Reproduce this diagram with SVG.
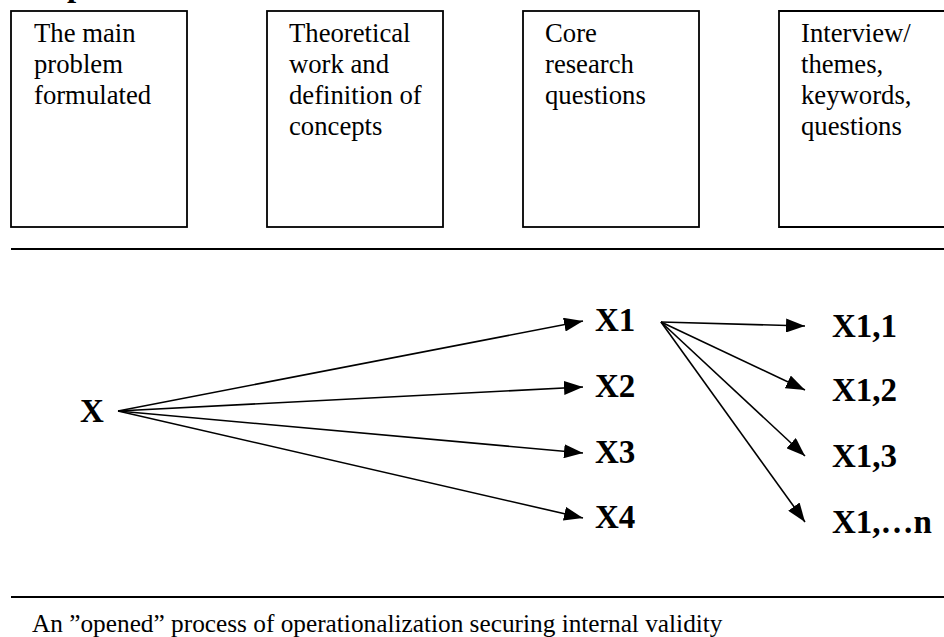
<svg xmlns="http://www.w3.org/2000/svg" width="944" height="637" viewBox="0 0 944 637">
<style>
.box{fill:none;stroke:#000;stroke-width:1.8}
.rule{stroke:#000;stroke-width:1.8}
.t{font-family:"Liberation Serif","Times New Roman",serif;font-size:26.7px;fill:#000}
.cap{font-family:"Liberation Serif","Times New Roman",serif;font-size:25.3px;fill:#000}
.b{font-family:"Liberation Serif","Times New Roman",serif;font-size:33px;font-weight:bold;fill:#000}
.c{stroke:#000;stroke-width:1.6;fill:none;marker-end:url(#ah)}
</style>
<defs>
<marker id="ah" markerUnits="userSpaceOnUse" markerWidth="20" markerHeight="14" refX="19" refY="7" orient="auto">
<path d="M0,0 L19,7 L0,14 Z" fill="#000"/>
</marker>
</defs>
<rect width="944" height="637" fill="#fff"/>
<text class="b" x="67" y="-4">p</text>
<g id="box1"><rect class="box" x="11" y="11" width="176" height="216"/>
<text class="t"><tspan x="34" y="42">The main</tspan><tspan x="34" y="73">problem</tspan><tspan x="34" y="104">formulated</tspan></text></g>
<g id="box2"><rect class="box" x="267" y="11" width="176" height="216"/>
<text class="t"><tspan x="289" y="42">Theoretical</tspan><tspan x="289" y="73">work and</tspan><tspan x="289" y="104">definition of</tspan><tspan x="289" y="135">concepts</tspan></text></g>
<g id="box3"><rect class="box" x="523" y="11" width="176" height="216"/>
<text class="t"><tspan x="545" y="42">Core</tspan><tspan x="545" y="73">research</tspan><tspan x="545" y="104">questions</tspan></text></g>
<g id="box4"><path class="box" d="M945,11 H779 V227 H945"/>
<text class="t"><tspan x="801" y="42">Interview/</tspan><tspan x="801" y="73">themes,</tspan><tspan x="801" y="104">keywords,</tspan><tspan x="801" y="135">questions</tspan></text></g>
<line class="rule" x1="11" y1="249" x2="944" y2="249"/>
<line class="rule" x1="11" y1="597" x2="944" y2="597"/>
<g id="nX"><text class="b" x="80" y="422">X</text></g>
<g id="nX1"><text class="b" x="595" y="331">X1</text></g>
<g id="nX2"><text class="b" x="595" y="397">X2</text></g>
<g id="nX3"><text class="b" x="595" y="463">X3</text></g>
<g id="nX4"><text class="b" x="595" y="528">X4</text></g>
<g id="nX11"><text class="b" x="832" y="337">X1,1</text></g>
<g id="nX12"><text class="b" x="832" y="401">X1,2</text></g>
<g id="nX13"><text class="b" x="832" y="467">X1,3</text></g>
<g id="nX1n"><text class="b" x="832" y="533">X1,…n</text></g>
<g id="connectors">
<line class="c" x1="118" y1="411" x2="583" y2="321"/>
<line class="c" x1="118" y1="411" x2="583" y2="387"/>
<line class="c" x1="118" y1="411" x2="583" y2="453"/>
<line class="c" x1="118" y1="411" x2="583" y2="518"/>
<line class="c" x1="661" y1="322" x2="805" y2="326"/>
<line class="c" x1="661" y1="322" x2="805" y2="390"/>
<line class="c" x1="661" y1="322" x2="805" y2="456"/>
<line class="c" x1="661" y1="322" x2="805" y2="522"/>
</g>
<text class="cap" x="32" y="632">An ”opened” process of operationalization securing internal validity</text>
</svg>
